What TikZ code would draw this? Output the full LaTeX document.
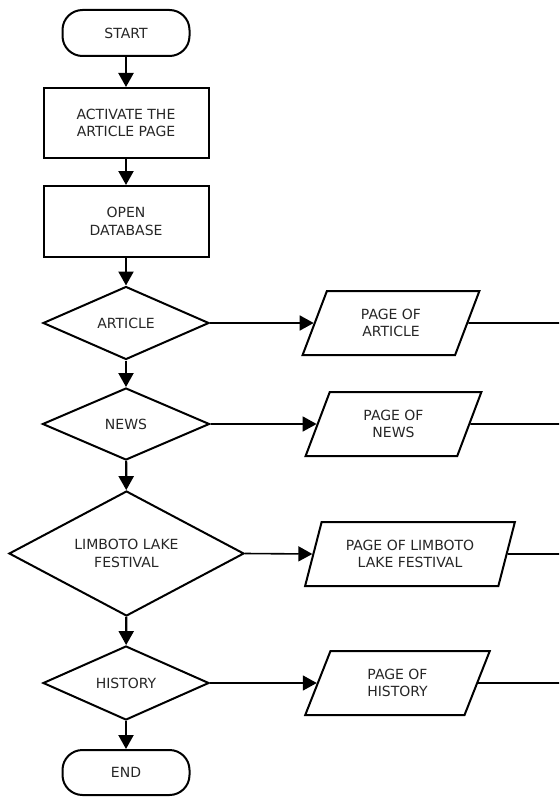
\documentclass[tikz,border=0pt]{standalone}
\usepackage{fontspec}
\setmainfont{DejaVu Sans}
\usetikzlibrary{shapes.geometric,arrows.meta}

\tikzset{
    term/.style={draw, line width=2pt, rounded corners=20pt, minimum width=127pt, minimum height=46pt},
    proc/.style={draw, line width=2pt, minimum width=165pt, minimum height=70pt},
    decide/.style={draw, diamond, shape aspect=2, line width=2pt, inner sep=0pt, align=center},
    pageio/.style={draw, trapezium, trapezium left angle=70, trapezium right angle=110,
        trapezium stretches=true, line width=2pt, minimum height=64pt, align=center},
    flow/.style={line width=2.2pt, -{Triangle[length=14pt,width=15pt]}},
    side/.style={line width=1.6pt}
}

\begin{document}
\begin{tikzpicture}[x=1pt, y=-1pt, font=\fontsize{14}{17.5}\selectfont, text=black!85]
\useasboundingbox (0,0) rectangle (559,797);

\node[term] (start) at (126,33) {START};
\node[proc, align=center] (activate) at (126,123) {ACTIVATE THE\\ARTICLE PAGE};
\node[proc, align=center, minimum height=71pt] (opendb) at (126,221.5) {OPEN\\DATABASE};

\node[decide, minimum width=166pt, minimum height=73pt] (article) at (126,323) {ARTICLE};
\node[decide, minimum width=167pt, minimum height=72pt] (news) at (126,424) {NEWS};
\node[decide, minimum width=235pt, minimum height=125pt] (limboto) at (126.5,553.5) {LIMBOTO LAKE\\FESTIVAL};
\node[decide, minimum width=166pt, minimum height=74pt] (history) at (126,683) {HISTORY};
\node[term, minimum height=45pt] (end) at (126,772.5) {END};

\node[pageio, minimum width=178pt] (pArticle) at (391,323) {PAGE OF\\ARTICLE};
\node[pageio, minimum width=177pt] (pNews) at (393.5,424) {PAGE OF\\NEWS};
\node[pageio, minimum width=210pt] (pLimboto) at (410,554) {PAGE OF LIMBOTO\\LAKE FESTIVAL};
\node[pageio, minimum width=185pt] (pHistory) at (397.5,683) {PAGE OF\\HISTORY};

% down the main column
\draw[flow] (start) -- (activate);
\draw[flow] (activate) -- (opendb);
\draw[flow] (opendb) -- (article);
\draw[flow] (article) -- (news);
\draw[flow] (news) -- (limboto);
\draw[flow] (limboto) -- (history);
\draw[flow] (history) -- (end);

% to the pages
\draw[flow, line width=1.6pt] (article.east) -- (pArticle.west);
\draw[flow, line width=1.6pt] (news.east) -- (pNews.west);
\draw[flow, line width=1.6pt] (limboto.east) -- (pLimboto.west);
\draw[flow, line width=1.6pt] (history.east) -- (pHistory.west);

% lines running off to the right
\coordinate (oArticle) at (559,323);
\coordinate (oNews) at (559,424);
\coordinate (oLimboto) at (559,554);
\coordinate (oHistory) at (559,683);
\draw[side] (pArticle.east) -- (oArticle);
\draw[side] (pNews.east) -- (oNews);
\draw[side] (pLimboto.east) -- (oLimboto);
\draw[side] (pHistory.east) -- (oHistory);
\end{tikzpicture}
\end{document}
